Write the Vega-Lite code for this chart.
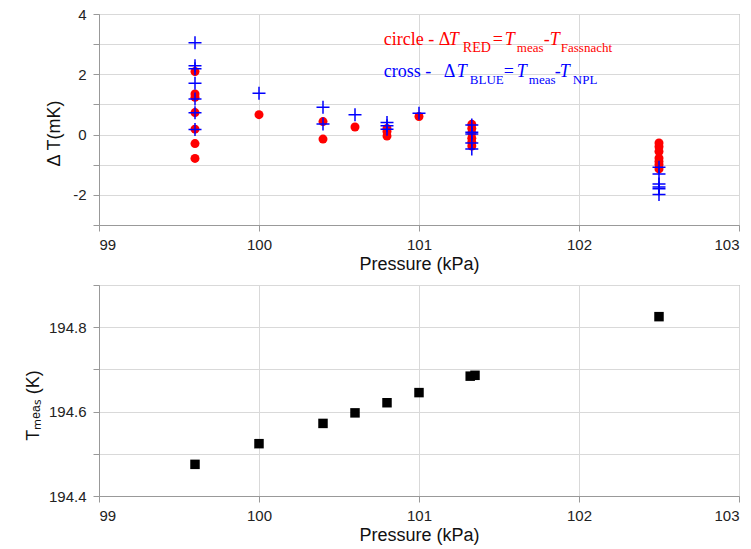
{
  "$schema": "https://vega.github.io/schema/vega-lite/v6.json",
  "background": "white",
  "padding": {"left": 23, "top": 6, "right": 5, "bottom": 5},
  "spacing": 60,
  "bounds": "flush",
  "config": {
    "font": "Liberation Sans",
    "view": {"stroke": "#999999", "strokeWidth": 1},
    "axis": {
      "labelFont": "Liberation Sans",
      "labelFontSize": 15,
      "labelColor": "#222222",
      "labelOverlap": false,
      "titleFont": "Liberation Sans",
      "titleFontSize": 18,
      "titleFontWeight": "normal",
      "titleColor": "#111111",
      "domainColor": "#999999",
      "tickColor": "#999999",
      "tickSize": 6,
      "gridColor": "#d9d9d9",
      "labelPadding": 7
    },
    "axisX": {"labelPadding": 6}
  },
  "datasets": {
    "dT": [
      {"series": "RED", "p": 99.6, "dT": 2.09},
      {"series": "RED", "p": 99.6, "dT": 1.35},
      {"series": "RED", "p": 99.6, "dT": 1.24},
      {"series": "RED", "p": 99.6, "dT": 0.73},
      {"series": "RED", "p": 99.6, "dT": 0.18},
      {"series": "RED", "p": 99.6, "dT": -0.30},
      {"series": "RED", "p": 99.6, "dT": -0.79},
      {"series": "RED", "p": 100.0, "dT": 0.66},
      {"series": "RED", "p": 100.4, "dT": 0.43},
      {"series": "RED", "p": 100.4, "dT": -0.15},
      {"series": "RED", "p": 100.6, "dT": 0.25},
      {"series": "RED", "p": 100.8, "dT": 0.20},
      {"series": "RED", "p": 100.8, "dT": 0.10},
      {"series": "RED", "p": 100.8, "dT": -0.05},
      {"series": "RED", "p": 101.0, "dT": 0.60},
      {"series": "RED", "p": 101.33, "dT": 0.34},
      {"series": "RED", "p": 101.33, "dT": 0.20},
      {"series": "RED", "p": 101.33, "dT": 0.05},
      {"series": "RED", "p": 101.33, "dT": -0.12},
      {"series": "RED", "p": 101.33, "dT": -0.25},
      {"series": "RED", "p": 101.33, "dT": -0.38},
      {"series": "RED", "p": 102.5, "dT": -0.28},
      {"series": "RED", "p": 102.5, "dT": -0.40},
      {"series": "RED", "p": 102.5, "dT": -0.56},
      {"series": "RED", "p": 102.5, "dT": -0.78},
      {"series": "RED", "p": 102.5, "dT": -0.89},
      {"series": "RED", "p": 102.5, "dT": -1.00},
      {"series": "RED", "p": 102.5, "dT": -1.14},
      {"series": "BLUE", "p": 99.6, "dT": 3.05},
      {"series": "BLUE", "p": 99.6, "dT": 2.28},
      {"series": "BLUE", "p": 99.6, "dT": 2.18},
      {"series": "BLUE", "p": 99.6, "dT": 1.70},
      {"series": "BLUE", "p": 99.6, "dT": 1.18},
      {"series": "BLUE", "p": 99.6, "dT": 0.72},
      {"series": "BLUE", "p": 99.6, "dT": 0.17},
      {"series": "BLUE", "p": 100.0, "dT": 1.37},
      {"series": "BLUE", "p": 100.4, "dT": 0.91},
      {"series": "BLUE", "p": 100.4, "dT": 0.35},
      {"series": "BLUE", "p": 100.6, "dT": 0.66},
      {"series": "BLUE", "p": 100.8, "dT": 0.40},
      {"series": "BLUE", "p": 100.8, "dT": 0.29},
      {"series": "BLUE", "p": 100.8, "dT": 0.18},
      {"series": "BLUE", "p": 101.0, "dT": 0.71},
      {"series": "BLUE", "p": 101.33, "dT": 0.32},
      {"series": "BLUE", "p": 101.33, "dT": 0.08},
      {"series": "BLUE", "p": 101.33, "dT": 0.02},
      {"series": "BLUE", "p": 101.33, "dT": -0.28},
      {"series": "BLUE", "p": 101.33, "dT": -0.48},
      {"series": "BLUE", "p": 102.5, "dT": -1.08},
      {"series": "BLUE", "p": 102.5, "dT": -1.31},
      {"series": "BLUE", "p": 102.5, "dT": -1.64},
      {"series": "BLUE", "p": 102.5, "dT": -1.74},
      {"series": "BLUE", "p": 102.5, "dT": -1.80},
      {"series": "BLUE", "p": 102.5, "dT": -1.99}
    ],
    "Tm": [
      {"p": 99.6, "T": 194.475},
      {"p": 100.0, "T": 194.524},
      {"p": 100.4, "T": 194.572},
      {"p": 100.6, "T": 194.597},
      {"p": 100.8, "T": 194.621},
      {"p": 101.0, "T": 194.645},
      {"p": 101.32, "T": 194.684},
      {"p": 101.35, "T": 194.686},
      {"p": 102.5, "T": 194.825}
    ]
  },
  "vconcat": [
    {
      "width": 640,
      "height": 211,
      "data": {"name": "dT"},
      "resolve": {"axis": {"x": "independent", "y": "independent"}},
      "layer": [
        {
          "transform": [{"filter": "datum.series == 'RED'"}],
          "mark": {"type": "point", "shape": "circle", "filled": true, "size": 81, "color": "#ff0000", "opacity": 1},
          "encoding": {
            "x": {
              "field": "p", "type": "quantitative",
              "scale": {"domain": [99, 103], "nice": false, "zero": false},
              "axis": {
                "title": "Pressure (kPa)",
                "values": [99, 99.5, 100, 100.5, 101, 101.5, 102, 102.5, 103],
                "format": "d",
                "labelExpr": "datum.value % 1 == 0 ? datum.label : ''",
                "grid": true,
                "titlePadding": 3
              }
            },
            "y": {
              "field": "dT", "type": "quantitative",
              "scale": {"domain": [-3, 4], "nice": false, "zero": false},
              "axis": {
                "title": "Δ T(mK)",
                "values": [-3, -2, -1, 0, 1, 2, 3, 4],
                "format": "d",
                "labelExpr": "abs(datum.value) % 2 == 1 ? '' : replace(datum.label, '−', '-')",
                "grid": true,
                "titlePadding": 9,
                "titleY": 119
              }
            }
          }
        },
        {
          "transform": [{"filter": "datum.series == 'BLUE'"}],
          "mark": {"type": "point", "shape": "M-1,0H1M0,-1V1", "filled": false, "size": 169, "stroke": "#0000ff", "strokeWidth": 1.5, "opacity": 1},
          "encoding": {
            "x": {"field": "p", "type": "quantitative", "axis": null},
            "y": {"field": "dT", "type": "quantitative", "axis": null}
          }
        },
        {"data": {"values": [{}]}, "mark": {"type": "text", "text": "circle - Δ", "font": "Liberation Serif", "fontSize": 18, "color": "#ff0000", "align": "left", "baseline": "alphabetic", "dx": 0}, "encoding": {"x": {"datum": 100.78, "axis": null}, "y": {"datum": 2.973, "axis": null}}},
        {"data": {"values": [{}]}, "mark": {"type": "text", "text": "T", "font": "Liberation Serif", "fontStyle": "italic", "fontSize": 18, "color": "#ff0000", "align": "left", "baseline": "alphabetic", "dx": 65}, "encoding": {"x": {"datum": 100.78, "axis": null}, "y": {"datum": 2.973, "axis": null}}},
        {"data": {"values": [{}]}, "mark": {"type": "text", "text": "RED", "font": "Liberation Serif", "fontSize": 14, "color": "#ff0000", "align": "left", "baseline": "alphabetic", "dx": 79, "dy": 7}, "encoding": {"x": {"datum": 100.78, "axis": null}, "y": {"datum": 2.973, "axis": null}}},
        {"data": {"values": [{}]}, "mark": {"type": "text", "text": "=", "font": "Liberation Serif", "fontSize": 18, "color": "#ff0000", "align": "left", "baseline": "alphabetic", "dx": 109}, "encoding": {"x": {"datum": 100.78, "axis": null}, "y": {"datum": 2.973, "axis": null}}},
        {"data": {"values": [{}]}, "mark": {"type": "text", "text": "T", "font": "Liberation Serif", "fontStyle": "italic", "fontSize": 18, "color": "#ff0000", "align": "left", "baseline": "alphabetic", "dx": 121}, "encoding": {"x": {"datum": 100.78, "axis": null}, "y": {"datum": 2.973, "axis": null}}},
        {"data": {"values": [{}]}, "mark": {"type": "text", "text": "meas", "font": "Liberation Serif", "fontSize": 13, "color": "#ff0000", "align": "left", "baseline": "alphabetic", "dx": 133, "dy": 7}, "encoding": {"x": {"datum": 100.78, "axis": null}, "y": {"datum": 2.973, "axis": null}}},
        {"data": {"values": [{}]}, "mark": {"type": "text", "text": "-", "font": "Liberation Serif", "fontSize": 18, "color": "#ff0000", "align": "left", "baseline": "alphabetic", "dx": 160}, "encoding": {"x": {"datum": 100.78, "axis": null}, "y": {"datum": 2.973, "axis": null}}},
        {"data": {"values": [{}]}, "mark": {"type": "text", "text": "T", "font": "Liberation Serif", "fontStyle": "italic", "fontSize": 18, "color": "#ff0000", "align": "left", "baseline": "alphabetic", "dx": 166}, "encoding": {"x": {"datum": 100.78, "axis": null}, "y": {"datum": 2.973, "axis": null}}},
        {"data": {"values": [{}]}, "mark": {"type": "text", "text": "Fassnacht", "font": "Liberation Serif", "fontSize": 13, "color": "#ff0000", "align": "left", "baseline": "alphabetic", "dx": 177, "dy": 7}, "encoding": {"x": {"datum": 100.78, "axis": null}, "y": {"datum": 2.973, "axis": null}}},
        {"data": {"values": [{}]}, "mark": {"type": "text", "text": "cross -", "font": "Liberation Serif", "fontSize": 18, "color": "#0000ff", "align": "left", "baseline": "alphabetic", "dx": 0}, "encoding": {"x": {"datum": 100.78, "axis": null}, "y": {"datum": 1.913, "axis": null}}},
        {"data": {"values": [{}]}, "mark": {"type": "text", "text": "Δ", "font": "Liberation Serif", "fontSize": 18, "color": "#0000ff", "align": "left", "baseline": "alphabetic", "dx": 60}, "encoding": {"x": {"datum": 100.78, "axis": null}, "y": {"datum": 1.913, "axis": null}}},
        {"data": {"values": [{}]}, "mark": {"type": "text", "text": "T", "font": "Liberation Serif", "fontStyle": "italic", "fontSize": 18, "color": "#0000ff", "align": "left", "baseline": "alphabetic", "dx": 73}, "encoding": {"x": {"datum": 100.78, "axis": null}, "y": {"datum": 1.913, "axis": null}}},
        {"data": {"values": [{}]}, "mark": {"type": "text", "text": "BLUE", "font": "Liberation Serif", "fontSize": 13, "color": "#0000ff", "align": "left", "baseline": "alphabetic", "dx": 86, "dy": 7}, "encoding": {"x": {"datum": 100.78, "axis": null}, "y": {"datum": 1.913, "axis": null}}},
        {"data": {"values": [{}]}, "mark": {"type": "text", "text": "=", "font": "Liberation Serif", "fontSize": 18, "color": "#0000ff", "align": "left", "baseline": "alphabetic", "dx": 120}, "encoding": {"x": {"datum": 100.78, "axis": null}, "y": {"datum": 1.913, "axis": null}}},
        {"data": {"values": [{}]}, "mark": {"type": "text", "text": "T", "font": "Liberation Serif", "fontStyle": "italic", "fontSize": 18, "color": "#0000ff", "align": "left", "baseline": "alphabetic", "dx": 133}, "encoding": {"x": {"datum": 100.78, "axis": null}, "y": {"datum": 1.913, "axis": null}}},
        {"data": {"values": [{}]}, "mark": {"type": "text", "text": "meas", "font": "Liberation Serif", "fontSize": 13, "color": "#0000ff", "align": "left", "baseline": "alphabetic", "dx": 145, "dy": 7}, "encoding": {"x": {"datum": 100.78, "axis": null}, "y": {"datum": 1.913, "axis": null}}},
        {"data": {"values": [{}]}, "mark": {"type": "text", "text": "-", "font": "Liberation Serif", "fontSize": 18, "color": "#0000ff", "align": "left", "baseline": "alphabetic", "dx": 171}, "encoding": {"x": {"datum": 100.78, "axis": null}, "y": {"datum": 1.913, "axis": null}}},
        {"data": {"values": [{}]}, "mark": {"type": "text", "text": "T", "font": "Liberation Serif", "fontStyle": "italic", "fontSize": 18, "color": "#0000ff", "align": "left", "baseline": "alphabetic", "dx": 176}, "encoding": {"x": {"datum": 100.78, "axis": null}, "y": {"datum": 1.913, "axis": null}}},
        {"data": {"values": [{}]}, "mark": {"type": "text", "text": "NPL", "font": "Liberation Serif", "fontSize": 13, "color": "#0000ff", "align": "left", "baseline": "alphabetic", "dx": 189, "dy": 7}, "encoding": {"x": {"datum": 100.78, "axis": null}, "y": {"datum": 1.913, "axis": null}}}
      ]
    },
    {
      "width": 640,
      "height": 211,
      "data": {"name": "Tm"},
      "mark": {"type": "square", "size": 90, "color": "#000000", "opacity": 1},
      "encoding": {
        "x": {
          "field": "p", "type": "quantitative",
          "scale": {"domain": [99, 103], "nice": false, "zero": false},
          "axis": {
            "title": "Pressure (kPa)",
            "values": [99, 99.5, 100, 100.5, 101, 101.5, 102, 102.5, 103],
            "format": "d",
            "labelExpr": "datum.value % 1 == 0 ? datum.label : ''",
            "grid": true,
            "titlePadding": 3
          }
        },
        "y": {
          "field": "T", "type": "quantitative",
          "scale": {"domain": [194.4, 194.9], "nice": false, "zero": false},
          "axis": {
            "title": "Tₘₑₐₛ (K)",
            "values": [194.4, 194.5, 194.6, 194.7, 194.8, 194.9],
            "format": ".1f",
            "labelExpr": "round(datum.value * 10) % 2 == 0 ? datum.label : ''",
            "grid": true,
            "titlePadding": 6,
            "titleY": 120
          }
        }
      }
    }
  ]
}
